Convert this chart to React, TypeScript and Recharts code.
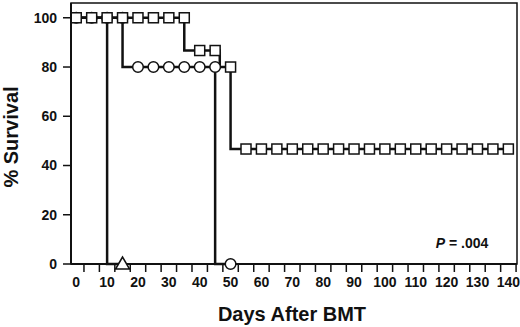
import { ComposedChart, Line, Scatter, XAxis, YAxis, ReferenceArea, ReferenceDot } from 'recharts';

// Kaplan-Meier step vertices (day of drop, survival after)
const squareDays = [0, 35, 46.5, 50, 140];
const squareSurv = [100, 86.7, 80, 46.7, 46.7];
const circleDays = [0, 15, 45, 50];
const circleSurv = [100, 80, 0, 0];
const triangleDays = [0, 10, 15];
const triangleSurv = [100, 0, 0];

// plotted symbols
const squareMarkDays = [0, 5, 10, 15, 20, 25, 30, 35, 40, 45, 50, 55, 60, 65, 70, 75, 80, 85, 90, 95, 100, 105, 110, 115, 120, 125, 130, 135, 140];
const squareMarkSurv = [100, 100, 100, 100, 100, 100, 100, 100, 86.7, 86.7, 80, 46.7, 46.7, 46.7, 46.7, 46.7, 46.7, 46.7, 46.7, 46.7, 46.7, 46.7, 46.7, 46.7, 46.7, 46.7, 46.7, 46.7, 46.7];
const circleMarkDays = [0, 5, 10, 15, 20, 25, 30, 35, 40, 45, 50];
const circleMarkSurv = [100, 100, 100, 100, 80, 80, 80, 80, 80, 80, 0];
const triangleMarkDays = [15];
const triangleMarkSurv = [0];

const dayTicks = [0, 10, 20, 30, 40, 50, 60, 70, 80, 90, 100, 110, 120, 130, 140];
const tickOffsets = [2.5, 7.5]; // tick marks sit between the labels
const survTicks = [0, 20, 40, 60, 80, 100];
const pValue = '.004';

const zip = (d: number[], s: number[]) => d.map((day, i) => ({ day, surv: s[i] }));

const INK = '#111';
const FONT = '"Liberation Sans", Arial, sans-serif';
const xDomain = [-1.7, 142.8];
const PLOT_W = 520 - 71 - 3;
const PX_PER_DAY = PLOT_W / (xDomain[1] - xDomain[0]);

const DayTick = ({ x, y, payload }: any) => {
  const axisY = y - 13;
  return (
    <g>
      {tickOffsets
        .filter((o) => payload.value + o <= xDomain[1])
        .map((o) => (
          <line key={o} x1={x + o * PX_PER_DAY} x2={x + o * PX_PER_DAY} y1={axisY} y2={axisY + 8} stroke={INK} strokeWidth={1.5} />
        ))}
      <text x={x} y={y} dy="0.71em" textAnchor="middle" fontFamily={FONT} fontSize={14} fontWeight={700} fill={INK}>
        {payload.value}
      </text>
    </g>
  );
};

const SquareMark = ({ cx, cy }: any) => (
  <rect x={cx - 5} y={cy - 5} width={10} height={10} fill="#fff" stroke={INK} strokeWidth={1.5} />
);
const CircleMark = ({ cx, cy }: any) => (
  <circle cx={cx} cy={cy} r={5.3} fill="#fff" stroke={INK} strokeWidth={1.5} />
);
const TriangleMark = ({ cx, cy }: any) => (
  <polygon points={`${cx},${cy - 7} ${cx - 7},${cy + 5} ${cx + 7},${cy + 5}`} fill="#fff" stroke={INK} strokeWidth={1.5} />
);

export default function App() {
  const tickStyle = { fontFamily: FONT, fontSize: 14, fontWeight: 700, fill: INK };
  return (
    <div style={{ position: 'absolute', left: 0, top: 0, background: '#fff' }}>
      <ComposedChart width={520} height={327} margin={{ top: 3, right: 3, left: 0, bottom: 0 }}>
        <XAxis
          xAxisId="days"
          type="number"
          dataKey="day"
          domain={xDomain}
          ticks={dayTicks}
          allowDataOverflow
          interval={0}
          height={63}
          axisLine={{ stroke: INK, strokeWidth: 2 }}
          tickLine={false}
          tickSize={0}
          tickMargin={13}
          tick={<DayTick />}
          label={{
            content: () => (
              <text x={292} y={321} textAnchor="middle" fontFamily={FONT} fontSize={20} fontWeight={700} fill={INK}>
                Days After BMT
              </text>
            ),
          }}
        />
        <YAxis
          type="number"
          domain={[0, 106]}
          ticks={survTicks}
          width={71}
          tickSize={8}
          tickMargin={6}
          tick={tickStyle}
          axisLine={{ stroke: INK, strokeWidth: 2 }}
          tickLine={{ stroke: INK, strokeWidth: 1.5 }}
          label={{
            content: () => (
              <text x={18} y={137} transform="rotate(-90 18 137)" textAnchor="middle" fontFamily={FONT} fontSize={20} fontWeight={700} fill={INK}>
                % Survival
              </text>
            ),
          }}
        />
        <ReferenceArea xAxisId="days" x1={xDomain[0]} x2={xDomain[1]} y1={0} y2={106} fill="none" stroke={INK} strokeWidth={1.5} />

        <Line xAxisId="days" data={zip(triangleDays, triangleSurv)} dataKey="surv" type="stepAfter" stroke={INK} strokeWidth={2.5} dot={false} isAnimationActive={false} />
        <Scatter xAxisId="days" data={zip(triangleMarkDays, triangleMarkSurv)} dataKey="surv" shape={TriangleMark} isAnimationActive={false} />
        <Line xAxisId="days" data={zip(circleDays, circleSurv)} dataKey="surv" type="stepAfter" stroke={INK} strokeWidth={2.5} dot={false} isAnimationActive={false} />
        <Scatter xAxisId="days" data={zip(circleMarkDays, circleMarkSurv)} dataKey="surv" shape={CircleMark} isAnimationActive={false} />
        <Line xAxisId="days" data={zip(squareDays, squareSurv)} dataKey="surv" type="stepAfter" stroke={INK} strokeWidth={2.5} dot={false} isAnimationActive={false} />
        <Scatter xAxisId="days" data={zip(squareMarkDays, squareMarkSurv)} dataKey="surv" shape={SquareMark} isAnimationActive={false} />

        <ReferenceDot
          xAxisId="days"
          x={125}
          y={8.5}
          r={0}
          fill="none"
          stroke="none"
          label={{
            content: ({ viewBox }: any) => (
              <text x={viewBox.x} y={viewBox.y + 5} textAnchor="middle" fontFamily={FONT} fontSize={14} fontWeight={700} fill={INK}>
                <tspan fontStyle="italic">P</tspan> = {pValue}
              </text>
            ),
          }}
        />
      </ComposedChart>
    </div>
  );
}
